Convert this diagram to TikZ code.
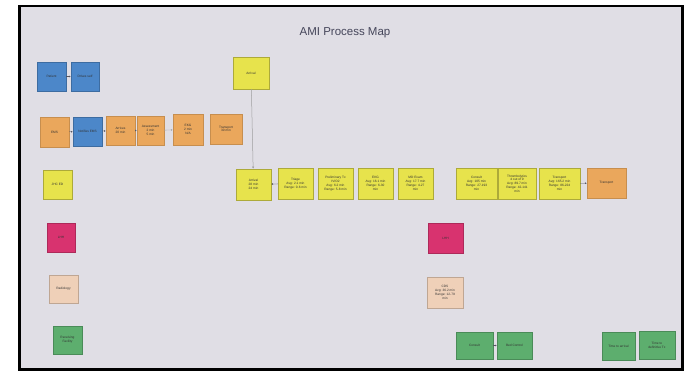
\documentclass[tikz,border=0pt]{standalone}
\usepackage{fontspec}
\setmainfont{Liberation Sans}
\usetikzlibrary{arrows.meta}
\definecolor{panel}{HTML}{E0DEE5}
\definecolor{cblue}{HTML}{4C87C9}
\definecolor{corange}{HTML}{EAA75C}
\definecolor{cyellow}{HTML}{E7E34C}
\definecolor{cmagenta}{HTML}{D8336F}
\definecolor{cpeach}{HTML}{EFD0B8}
\definecolor{cgreen}{HTML}{5DAE6E}
\definecolor{ctitle}{HTML}{45455A}
\definecolor{clink}{HTML}{555560}
\tikzset{
  card/.style={rectangle, inner sep=0.5pt, align=center, text=black!80,
    font=\fontsize{3.2}{3.8}\selectfont, line width=0.4pt},
  blue card/.style={card, fill=cblue, draw=cblue!80!black},
  orange card/.style={card, fill=corange, draw=corange!85!black},
  yellow card/.style={card, fill=cyellow, draw=cyellow!75!black},
  magenta card/.style={card, fill=cmagenta, draw=cmagenta!80!black},
  peach card/.style={card, fill=cpeach, draw=cpeach!80!black},
  green card/.style={card, fill=cgreen, draw=cgreen!80!black},
  link/.style={draw=clink, line width=0.35pt, -{Latex[length=1.8pt,width=1.8pt]}},
  longlink/.style={draw=gray!75, line width=0.5pt, -{Latex[length=2.2pt,width=2.2pt]}},
}
\begin{document}
\begin{tikzpicture}[x=1pt,y=-1pt]
  % page and framed panel
  \fill[white] (0,0) rectangle (686,371);
  \useasboundingbox (0,0) rectangle (686,371);
  \draw[fill=panel, line width=2.6pt] (19.5,6) rectangle (682.5,369.5);

  % title
  \node[text=ctitle, font=\fontsize{11.5}{13}\selectfont] (title) at (345,33) {AMI Process Map};

  % patient arrives on their own
  \node[blue card, minimum width=29pt, minimum height=29pt] (patient) at (51.5,76.5) {Patient};
  \node[blue card, minimum width=28pt, minimum height=29pt] (drives) at (85,76.5) {Drives self};

  % EMS pathway
  \node[orange card, minimum width=29pt, minimum height=30pt] (ems) at (54.5,132) {EMS};
  \node[blue card, minimum width=29pt, minimum height=29pt] (notify) at (87.5,131.5) {Notifies EMS};
  \node[orange card, minimum width=29pt, minimum height=29pt] (arrives) at (120.5,130.5) {Arrives\\20 min};
  \node[orange card, minimum width=27pt, minimum height=29pt] (assess) at (150.5,130.5) {Assessment\\2 min\\5 min};
  \node[orange card, minimum width=30pt, minimum height=31pt] (ekgA) at (188,129.5) {EKG\\2 min\\N/A};
  \node[orange card, minimum width=32pt, minimum height=30pt] (transA) at (226,129) {Transport\\30 min};
  \node[yellow card, minimum width=36pt, minimum height=32pt] (arrivalTop) at (251,73) {Arrival};

  % emergency department pathway
  \node[yellow card, minimum width=35pt, minimum height=31pt] (arrival) at (253.5,184.5) {Arrival\\28 min\\24 min};
  \node[yellow card, minimum width=35pt, minimum height=31pt] (triage) at (295.5,183.5) {Triage\\Avg: 2.1 min\\Range: 0-6 min};
  \node[yellow card, minimum width=35pt, minimum height=31pt] (prelim) at (335.5,183.5) {Preliminary Tx\\IV/O2\\Avg: 6.2 min\\Range: 5-8 min};
  \node[yellow card, minimum width=35pt, minimum height=31pt] (ekgB) at (375.5,183.5) {EKG\\Avg: 16.1 min\\Range: 6-30\\min};
  \node[yellow card, minimum width=35pt, minimum height=31pt] (mdexam) at (415.5,183.5) {MD Exam\\Avg: 17.7 min\\Range: 4-27\\min};
  \node[yellow card, minimum width=41pt, minimum height=31pt] (consult) at (476.5,183.5) {Consult\\Avg: 105 min\\Range: 27-193\\min};
  \node[yellow card, minimum width=38pt, minimum height=31pt] (thromb) at (517,183.5) {Thrombolytics\\4 out of 9\\Avg: 89.7 min\\Range: 42-141\\min};
  \node[yellow card, minimum width=41pt, minimum height=31pt] (transY) at (559.5,183.5) {Transport\\Avg: 165.2 min\\Range: 86-224\\min};
  \node[orange card, minimum width=39pt, minimum height=30pt] (transO) at (606.5,183) {Transport};

  % legend column
  \node[yellow card, minimum width=29pt, minimum height=29pt] (jhc) at (57.5,184.5) {JHC ED};
  \node[magenta card, minimum width=28pt, minimum height=29pt] (lhhA) at (61,237.5) {LHH};
  \node[peach card, minimum width=29pt, minimum height=28pt] (radiology) at (63.5,289) {Radiology};
  \node[green card, minimum width=29pt, minimum height=28pt] (receiving) at (67.5,340) {Receiving\\Facility};

  % radiology and hospital steps
  \node[magenta card, minimum width=35pt, minimum height=30pt] (lhhB) at (445.5,238) {LHH};
  \node[peach card, minimum width=36pt, minimum height=31pt] (cds) at (445,292.5) {CDS\\Avg: 36.2 min\\Range: 12-79\\min};

  % receiving facility steps
  \node[green card, minimum width=37pt, minimum height=27pt] (consultB) at (474.5,345.5) {Consult};
  \node[green card, minimum width=35pt, minimum height=27pt] (bed) at (514.5,345.5) {Bed Control};
  \node[green card, minimum width=33pt, minimum height=28pt] (tarrival) at (618.5,346) {Time to arrival};
  \node[green card, minimum width=36pt, minimum height=28pt] (tdefinitive) at (657,345) {Time to\\definitive Tx};

  % connectors
  \draw[link] (patient) -- (drives);
  \draw[link] (ems) -- (notify);
  \draw[link] (notify) -- (arrives);
  \draw[link] (arrives) -- (assess);
  \draw[link, draw=gray!70] (assess) -- (ekgA);
  \draw[longlink] (arrivalTop) -- (arrival);
  \draw[link] (triage) -- (arrival);
  \draw[link] (transY) -- (transO);
  \draw[link] (consultB) -- (bed);
\end{tikzpicture}
\end{document}
